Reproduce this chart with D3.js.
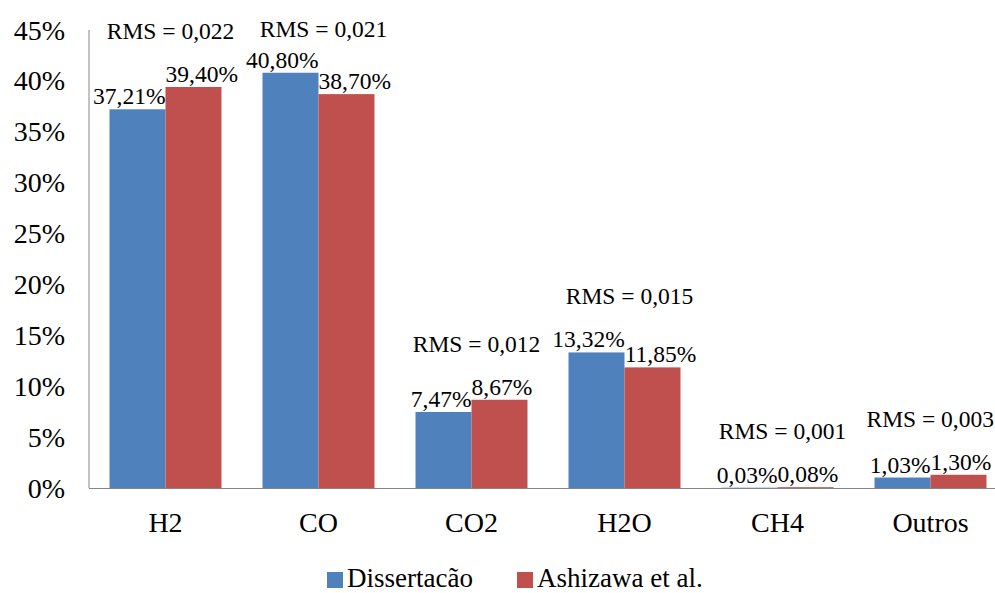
<!DOCTYPE html>
<html>
<head>
<meta charset="utf-8">
<script src="https://cdn.jsdelivr.net/npm/d3@7"></script>
<style>
  html, body { margin: 0; padding: 0; background: #fff; }
  svg { display: block; }
  text { font-family: "Liberation Serif", "Times New Roman", serif; fill: #000; }
</style>
</head>
<body>
<svg id="chart" width="995" height="593"></svg>
<script>
// Gas composition (% of total), model vs. reference
const categories = ["H2", "CO", "CO2", "H2O", "CH4", "Outros"];
const dissertacao = [37.21, 40.80, 7.47, 13.32, 0.03, 1.03];
const ashizawa = [39.40, 38.70, 8.67, 11.85, 0.08, 1.30];
const rms = [0.022, 0.021, 0.012, 0.015, 0.001, 0.003];
const seriesNames = ["Dissertacão", "Ashizawa et al."];
const yTicks = [0, 5, 10, 15, 20, 25, 30, 35, 40, 45];

const colors = ["#4F81BD", "#C0504D"];
const series = [dissertacao, ashizawa];

const W = 995;
const svg = d3.select("#chart");

const x0 = 89, yBase = 488, yTop = 30;
const band = 153;

const x = d3.scaleBand()
  .domain(categories)
  .range([x0, x0 + band * categories.length])
  .paddingInner(0.268)
  .paddingOuter(0.134);

const xi = d3.scaleBand()
  .domain(d3.range(series.length))
  .range([0, x.bandwidth()]);

const y = d3.scaleLinear().domain([0, 45]).range([yBase, yTop]);

const fmtPct = v => d3.format(".2f")(v).replace(".", ",") + "%";
const fmtRms = v => d3.format(".3f")(v).replace(".", ",");

// Y axis: line and labels only
svg.append("line")
  .attr("x1", x0).attr("x2", x0)
  .attr("y1", y(45)).attr("y2", y(0))
  .attr("stroke", "#868686").attr("stroke-width", 1);

svg.append("g").selectAll("text")
  .data(yTicks)
  .join("text")
  .attr("x", 65)
  .attr("y", d => y(d))
  .attr("dy", "0.34em")
  .attr("text-anchor", "end")
  .style("font-size", "28px")
  .text(d => d + "%");

// Bars
const groups = svg.append("g").selectAll("g")
  .data(categories)
  .join("g")
  .attr("transform", d => `translate(${x(d)},0)`);

groups.selectAll("rect")
  .data((d, i) => series.map((s, k) => ({ k, v: s[i] })))
  .join("rect")
  .attr("x", d => xi(d.k))
  .attr("width", xi.bandwidth())
  .attr("y", d => y(d.v))
  .attr("height", d => y(0) - y(d.v))
  .attr("fill", d => colors[d.k]);

// X axis line
svg.append("line")
  .attr("x1", x0).attr("x2", x0 + band * categories.length)
  .attr("y1", yBase + 0.5).attr("y2", yBase + 0.5)
  .attr("stroke", "#868686").attr("stroke-width", 1);

// Value labels above each bar; the two labels of a group are pushed apart when they overlap
const labelLayer = svg.append("g");
categories.forEach((c, i) => {
  const texts = series.map((s, k) => labelLayer.append("text")
    .attr("y", y(s[i]) - 5)
    .attr("text-anchor", "middle")
    .style("font-size", "23.5px")
    .text(fmtPct(s[i])));
  const cx = series.map((s, k) => x(c) + xi(k) + xi.bandwidth() / 2);
  const w = texts.map(t => t.node().getComputedTextLength());
  const overlap = (cx[0] + w[0] / 2) - (cx[1] - w[1] / 2);
  if (overlap > 0) {
    cx[0] -= overlap / 2;
    cx[1] += overlap / 2;
  }
  texts.forEach((t, k) => t.attr("x", Math.min(cx[k], W - w[k] / 2 - 1)));
});

// RMS annotation over each group, kept inside the drawing width
svg.append("g").selectAll("text")
  .data(categories)
  .join("text")
  .attr("y", (d, i) => Math.max(37, y(Math.max(dissertacao[i], ashizawa[i])) - 48))
  .attr("text-anchor", "middle")
  .style("font-size", "23.5px")
  .text((d, i) => "RMS = " + fmtRms(rms[i]))
  .attr("x", function (d) {
    const w = this.getComputedTextLength();
    return Math.min(x(d) + x.bandwidth() / 2 + 5, W - w / 2 - 1);
  });

// Category labels
svg.append("g").selectAll("text")
  .data(categories)
  .join("text")
  .attr("x", d => x(d) + x.bandwidth() / 2)
  .attr("y", 532)
  .attr("text-anchor", "middle")
  .style("font-size", "28px")
  .text(d => d);

// Legend
const legendX = [327, 517];
const legend = svg.append("g").selectAll("g")
  .data(seriesNames)
  .join("g")
  .attr("transform", (d, i) => `translate(${legendX[i]},572)`);
legend.append("rect")
  .attr("width", 16).attr("height", 16)
  .attr("fill", (d, i) => colors[i]);
legend.append("text")
  .attr("x", 20).attr("y", 15)
  .style("font-size", "27px")
  .text(d => d);
</script>
</body>
</html>
